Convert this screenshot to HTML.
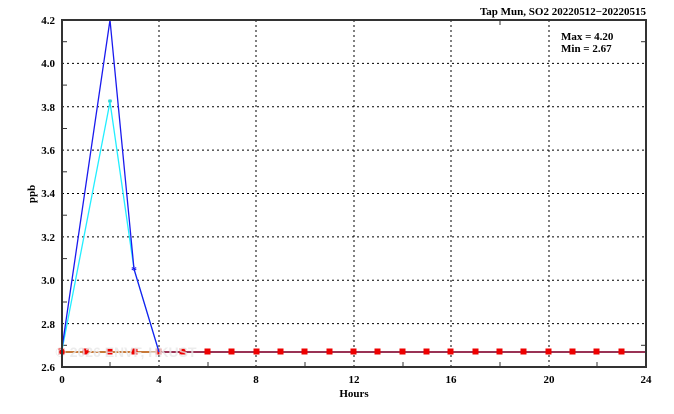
<!DOCTYPE html>
<html><head><meta charset="utf-8"><style>
html,body{margin:0;padding:0;background:#fff;}
svg text{font-family:"Liberation Serif","DejaVu Serif",serif;font-weight:bold;fill:#000;}
</style></head><body>
<svg width="674" height="409" viewBox="0 0 674 409" xmlns="http://www.w3.org/2000/svg">
<rect width="674" height="409" fill="#fff"/>
<g stroke="#000" stroke-width="1" stroke-dasharray="2,3">
<line x1="159" y1="20" x2="159" y2="367"/>
<line x1="256" y1="20" x2="256" y2="367"/>
<line x1="354" y1="20" x2="354" y2="367"/>
<line x1="451" y1="20" x2="451" y2="367"/>
<line x1="549" y1="20" x2="549" y2="367"/>
<line x1="62" y1="63.4" x2="646" y2="63.4"/>
<line x1="62" y1="106.8" x2="646" y2="106.8"/>
<line x1="62" y1="150.1" x2="646" y2="150.1"/>
<line x1="62" y1="193.5" x2="646" y2="193.5"/>
<line x1="62" y1="236.9" x2="646" y2="236.9"/>
<line x1="62" y1="280.3" x2="646" y2="280.3"/>
<line x1="62" y1="323.6" x2="646" y2="323.6"/>
</g>
<g stroke="#333" stroke-width="1">
<line x1="62" y1="41.7" x2="67" y2="41.7"/><line x1="62" y1="85.1" x2="67" y2="85.1"/>
<line x1="62" y1="128.5" x2="67" y2="128.5"/><line x1="62" y1="171.8" x2="67" y2="171.8"/>
<line x1="62" y1="215.2" x2="67" y2="215.2"/><line x1="62" y1="258.6" x2="67" y2="258.6"/>
<line x1="62" y1="302" x2="67" y2="302"/><line x1="62" y1="345.3" x2="67" y2="345.3"/>
<line x1="641" y1="41.7" x2="646" y2="41.7"/><line x1="641" y1="345.3" x2="646" y2="345.3"/>
<line x1="110" y1="367" x2="110" y2="362"/><line x1="208" y1="367" x2="208" y2="362"/>
<line x1="305" y1="367" x2="305" y2="362"/><line x1="403" y1="367" x2="403" y2="362"/>
<line x1="500" y1="367" x2="500" y2="362"/><line x1="597" y1="367" x2="597" y2="362"/>
<line x1="110" y1="20" x2="110" y2="25"/><line x1="500" y1="20" x2="500" y2="25"/>
</g>
<polyline fill="none" stroke="#c87a3a" stroke-width="2" points="62,352 159,352"/>
<polyline fill="none" stroke="#993355" stroke-width="2" points="159,352 646,352"/>
<g fill="#e00" stroke="#e00">
<rect x="59" y="349" width="5" height="5"/><rect x="83" y="349" width="5" height="5"/><rect x="107" y="349" width="5" height="5"/><rect x="132" y="349" width="5" height="5"/><rect x="156" y="349" width="5" height="5"/><rect x="180" y="349" width="5" height="5"/><rect x="205" y="349" width="5" height="5"/><rect x="229" y="349" width="5" height="5"/><rect x="254" y="349" width="5" height="5"/><rect x="278" y="349" width="5" height="5"/><rect x="302" y="349" width="5" height="5"/><rect x="327" y="349" width="5" height="5"/><rect x="351" y="349" width="5" height="5"/><rect x="375" y="349" width="5" height="5"/><rect x="400" y="349" width="5" height="5"/><rect x="424" y="349" width="5" height="5"/><rect x="448" y="349" width="5" height="5"/><rect x="473" y="349" width="5" height="5"/><rect x="497" y="349" width="5" height="5"/><rect x="521" y="349" width="5" height="5"/><rect x="546" y="349" width="5" height="5"/><rect x="570" y="349" width="5" height="5"/><rect x="594" y="349" width="5" height="5"/><rect x="619" y="349" width="5" height="5"/>
</g>
<text x="126" y="357" font-size="14" style="fill:#e8e8e8;font-family:'Liberation Sans',sans-serif" text-anchor="middle" opacity="0.8">© 2026 ENVF, HKUST</text>
<polyline fill="none" stroke="#22eeff" stroke-width="1.3" points="62,350 110,102 134,269 159,352"/>
<polyline fill="none" stroke="#1a1aee" stroke-width="1.3" points="62,348 110,20 134,269 159,352"/>
<text x="110" y="106" font-size="10" style="fill:#0cc" text-anchor="middle">*</text>
<text x="134" y="274" font-size="12" style="fill:#11e" text-anchor="middle">*</text>
<rect x="62" y="20" width="584" height="347" fill="none" stroke="#333" stroke-width="2"/>
<g font-size="11" text-anchor="end">
<text x="55" y="24">4.2</text><text x="55" y="67">4.0</text><text x="55" y="111">3.8</text>
<text x="55" y="154">3.6</text><text x="55" y="197">3.4</text><text x="55" y="241">3.2</text>
<text x="55" y="284">3.0</text><text x="55" y="328">2.8</text><text x="55" y="371">2.6</text>
</g>
<g font-size="11" text-anchor="middle">
<text x="62" y="383">0</text><text x="159" y="383">4</text><text x="256" y="383">8</text>
<text x="354" y="383">12</text><text x="451" y="383">16</text><text x="549" y="383">20</text><text x="646" y="383">24</text>
</g>
<text x="354" y="397" font-size="11" text-anchor="middle">Hours</text>
<text transform="translate(35,194) rotate(-90)" font-size="11" text-anchor="middle">ppb</text>
<text x="646" y="15" font-size="11" text-anchor="end">Tap Mun, SO2 20220512−20220515</text>
<text x="561" y="40" font-size="11">Max = 4.20</text>
<text x="561" y="52" font-size="11">Min = 2.67</text>
</svg>
</body></html>
